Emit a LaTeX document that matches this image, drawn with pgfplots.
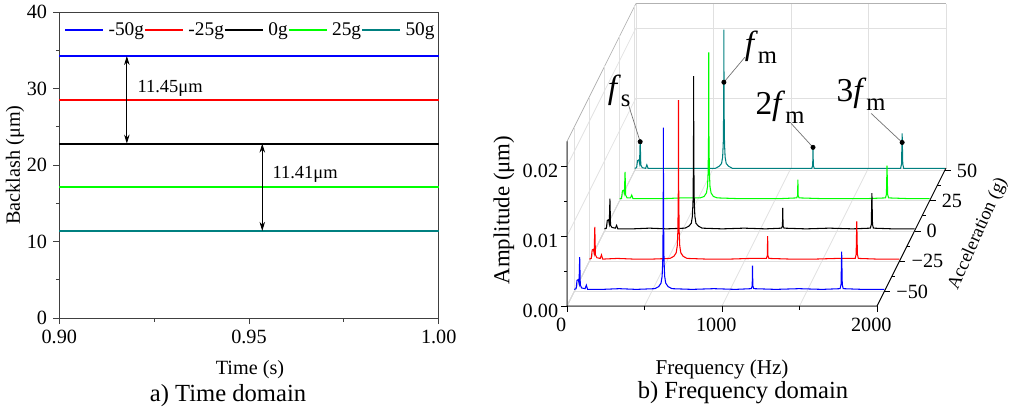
\documentclass[border=0pt]{standalone}
\usepackage{fontspec}
\setmainfont{Liberation Serif}
\usepackage{pgfplots}
\pgfplotsset{compat=1.18}
\usepackage{pgfplotstable}
\usetikzlibrary{arrows.meta}

\definecolor{cblue}{RGB}{0,0,255}
\definecolor{cred}{RGB}{255,0,0}
\definecolor{cgreen}{RGB}{0,255,0}
\definecolor{cteal}{RGB}{0,128,128}
\definecolor{axgray}{RGB}{64,64,64}

\newcommand{\fs}[1]{\fontsize{#1}{#1}\selectfont}
% f with a roman subscript, as in the figure
\newcommand{\fsub}[1]{{\fs{19}\textit{f}\raisebox{-0.55ex}{\fs{14}#1}}}

% amplitude spectra (um), one column per acceleration (-50g ... 50g)
\pgfplotstableread{
f     b       r       k       g       t
0     0.0003  0.0003  0.0003  0.0003  0.0003
12    0.0004  0.0004  0.0004  0.0003  0.0004
18    0.0016  0.0016  0.0015  0.0014  0.0014
26    0.0017  0.0017  0.0016  0.0015  0.0015
31    0.0012  0.0012  0.0011  0.0011  0.0010
35    0.0049  0.0049  0.0046  0.0041  0.0044
39    0.0009  0.0009  0.0008  0.0008  0.0008
48    0.0005  0.0005  0.0005  0.0004  0.0004
70    0.0004  0.0004  0.0004  0.0004  0.0003
78    0.0009  0.0009  0.0008  0.0008  0.0008
86    0.0003  0.0003  0.0003  0.0003  0.0003
180   0.0003  0.0004  0.0003  0.0003  0.0003
290   0.0004  0.0003  0.0004  0.0003  0.0003
400   0.0003  0.0003  0.0003  0.0004  0.0003
520   0.0004  0.0004  0.0004  0.0004  0.0003
545   0.0007  0.0007  0.0007  0.0006  0.0006
560   0.0012  0.0012  0.0011  0.0011  0.0010
567   0.0022  0.0022  0.0021  0.0020  0.0019
571   0.0045  0.0044  0.0042  0.0041  0.0039
574   0.0110  0.0108  0.0103  0.0099  0.0095
575   0.0234  0.0230  0.0221  0.0212  0.0201
576   0.0110  0.0108  0.0103  0.0099  0.0095
579   0.0045  0.0044  0.0042  0.0041  0.0039
583   0.0022  0.0022  0.0021  0.0020  0.0019
590   0.0012  0.0012  0.0011  0.0011  0.0010
605   0.0007  0.0007  0.0007  0.0006  0.0006
630   0.0004  0.0004  0.0004  0.0004  0.0003
760   0.0003  0.0003  0.0003  0.0003  0.0003
900   0.0004  0.0003  0.0004  0.0003  0.0003
1040  0.0003  0.0004  0.0003  0.0003  0.0003
1142  0.0004  0.0004  0.0004  0.0004  0.0003
1148  0.0008  0.0008  0.0007  0.0007  0.0007
1150  0.0037  0.0036  0.0033  0.0030  0.0033
1152  0.0008  0.0008  0.0007  0.0007  0.0007
1158  0.0004  0.0004  0.0004  0.0004  0.0003
1300  0.0003  0.0003  0.0003  0.0003  0.0003
1450  0.0004  0.0003  0.0004  0.0003  0.0003
1600  0.0003  0.0004  0.0003  0.0003  0.0003
1715  0.0004  0.0004  0.0004  0.0004  0.0003
1721  0.0010  0.0010  0.0009  0.0009  0.0009
1725  0.0057  0.0057  0.0054  0.0050  0.0053
1729  0.0010  0.0010  0.0009  0.0009  0.0009
1735  0.0004  0.0004  0.0004  0.0004  0.0003
1860  0.0003  0.0003  0.0003  0.0003  0.0003
2000  0.0003  0.0003  0.0003  0.0003  0.0003
}\spec

\begin{document}
\begin{tikzpicture}
\useasboundingbox (0,0) rectangle (202mm,-82.8mm);

%--- a) time domain
\begin{axis}[
  scale only axis, width=75.88mm, height=61.2mm,
  at={(11.86mm,-63.6mm)}, anchor=south west,
  xmin=0.9, xmax=1.0, ymin=0, ymax=40,
  xtick={0.90,0.95,1.00}, xticklabels={0.90,0.95,1.00},
  minor xtick={0.925,0.975},
  ytick={0,10,20,30,40}, minor ytick={5,15,25,35},
  tick align=outside, tick pos=left,
  major tick length=1.2mm, minor tick length=0.7mm,
  axis line style={axgray, line width=0.5pt},
  tick style={axgray, line width=0.5pt},
  ticklabel style={font=\fs{11.5}},
  /pgf/number format/assume math mode=true,
  legend columns=5,
  legend style={at={(0.012,0.941)}, anchor=west, draw=none, fill=none,
    inner sep=0pt, font=\fs{11},
    /tikz/every odd column/.style={column sep=0.9mm},
    /tikz/every even column/.style={column sep=0pt},
    nodes={inner xsep=0pt, inner ysep=1pt}},
  legend image code/.code={\draw[#1] (0mm,0mm) -- (7.6mm,0mm);},
  clip=false,
]
\addplot[draw=cblue, line width=1.1pt] coordinates {(0.90,34.25) (1.00,34.25)};
\addlegendentry{-50g}
\addplot[draw=cred, line width=1.1pt] coordinates {(0.90,28.55) (1.00,28.55)};
\addlegendentry{-25g}
\addplot[draw=black, line width=1.1pt] coordinates {(0.90,22.80) (1.00,22.80)};
\addlegendentry{0g}
\addplot[draw=cgreen, line width=1.1pt] coordinates {(0.90,17.10) (1.00,17.10)};
\addlegendentry{25g}
\addplot[draw=cteal, line width=1.1pt] coordinates {(0.90,11.39) (1.00,11.39)};
\addlegendentry{50g}
\draw[{Stealth[length=1.8mm,width=1.1mm]}-{Stealth[length=1.8mm,width=1.1mm]}, line width=0.5pt]
  (axis cs:0.9178,34.25) -- (axis cs:0.9178,22.80);
\draw[{Stealth[length=1.8mm,width=1.1mm]}-{Stealth[length=1.8mm,width=1.1mm]}, line width=0.5pt]
  (axis cs:0.9535,22.80) -- (axis cs:0.9535,11.39);
\node[font=\fs{10.5}] at (axis cs:0.9292,30.07) {11.45μm};
\node[font=\fs{10.5}] at (axis cs:0.9648,18.82) {11.41μm};
\end{axis}

%--- b) frequency domain; amplitude is drawn in units of 0.01 um
\begin{axis}[
  at={(120.9mm,-46.19mm)}, anchor=origin,
  x={(0.031mm,0mm)}, y={(0.121mm,0.2421mm)}, z={(0mm,14mm)},
  xmin=0, xmax=2000, ymin=-62, ymax=52, zmin=0, zmax=2.35,
  xtick={0,1000,2000}, xticklabels={0,1000,2000}, minor xtick={500,1500},
  ytick={-50,-25,0,25,50}, yticklabels={−50,−25,0,25,50},
  ztick={0,1,2}, zticklabels={0.00,0.01,0.02},
  xmajorgrids, xminorgrids, ymajorgrids, zmajorgrids,
  grid style={black!12, line width=0.4pt},
  minor grid style={black!12, line width=0.4pt},
  axis line style={black!30, line width=0.4pt},
  tick style={draw=none},
  tick align=outside,
  major tick length=1.2mm, minor tick length=0.7mm,
  ticklabel style={font=\fs{11.5}},
  yticklabel style={anchor=west},
  zticklabel style={anchor=east},
  clip=false,
]
% front axis lines and their ticks in black
\draw[black, line width=0.5pt] (axis cs:0,-62,2.35) -- (axis cs:0,-62,0)
  -- (axis cs:2000,-62,0) -- (axis cs:2000,52,0);
\pgfplotsinvokeforeach{0,1000,2000}{
  \draw[black, line width=0.5pt] (axis cs:#1,-62,0) -- ++(0mm,-1.2mm);}
\pgfplotsinvokeforeach{500,1500}{
  \draw[black, line width=0.5pt] (axis cs:#1,-62,0) -- ++(0mm,-0.7mm);}
\pgfplotsinvokeforeach{0,1,2}{
  \draw[black, line width=0.5pt] (axis cs:0,-62,#1) -- ++(-1.2mm,0mm);}
\pgfplotsinvokeforeach{0.5,1.5}{
  \draw[black, line width=0.5pt] (axis cs:0,-62,#1) -- ++(-0.7mm,0mm);}
\pgfplotsinvokeforeach{-50,-25,0,25,50}{
  \draw[black, line width=0.5pt] (axis cs:2000,#1,0) -- ++(1.2mm,0mm);}
\pgfplotsinvokeforeach{-37.5,-12.5,12.5,37.5}{
  \draw[black, line width=0.5pt] (axis cs:2000,#1,0) -- ++(0.7mm,0mm);}
\addplot3[cteal, line width=0.6pt] table[x=f, y expr=50, z expr=100*\thisrow{t}] {\spec};
\addplot3[cgreen, line width=0.6pt] table[x=f, y expr=25, z expr=100*\thisrow{g}] {\spec};
\addplot3[black, line width=0.6pt] table[x=f, y expr=0, z expr=100*\thisrow{k}] {\spec};
\addplot3[cred, line width=0.6pt] table[x=f, y expr=-25, z expr=100*\thisrow{r}] {\spec};
\addplot3[cblue, line width=0.6pt] table[x=f, y expr=-50, z expr=100*\thisrow{b}] {\spec};
\addplot3[only marks, mark=*, mark size=1.2pt, black]
  coordinates {(35,50,0.41) (575,50,1.26) (1150,50,0.33) (1725,50,0.40)};
% leader lines and labels
\draw[black!55, line width=0.4pt] (axis cs:35,50,0.41) -- ++(-2.4mm,7.6mm);
\node at ([shift={(-4.2mm,10.2mm)}]axis cs:35,50,0.41) {\fsub{s}};
\draw[black!55, line width=0.4pt] (axis cs:575,50,1.26) -- ++(4.2mm,5mm);
\node at ([shift={(7.4mm,7mm)}]axis cs:575,50,1.26) {\fsub{m}};
\draw[black!55, line width=0.4pt] (axis cs:1150,50,0.33) -- ++(-4.4mm,4.8mm);
\node at ([shift={(-6.6mm,8mm)}]axis cs:1150,50,0.33) {{\fs{19}2}\fsub{m}};
\draw[black!55, line width=0.4pt] (axis cs:1725,50,0.40) -- ++(-6.2mm,5.8mm);
\node at ([shift={(-8.2mm,9.6mm)}]axis cs:1725,50,0.40) {{\fs{19}3}\fsub{m}};
\end{axis}

%--- labels and captions
\node[rotate=90, font=\fs{11.5}] at (3mm,-33mm) {Backlash (μm)};
\node[font=\fs{11.5}] at (50mm,-74mm) {Time (s)};
\node[font=\fs{14}] at (45.6mm,-79.2mm) {a) Time domain};
\node[rotate=90, font=\fs{13}] at (100.8mm,-42mm) {Amplitude (μm)};
\node[font=\fs{12}] at (144.4mm,-73.8mm) {Frequency (Hz)};
\node[font=\fs{14}] at (148.6mm,-78.6mm) {b) Frequency domain};
\node[rotate=66, font=\fs{10.5}] at (195.6mm,-46.8mm) {Acceleration (g)};
\end{tikzpicture}
\end{document}
